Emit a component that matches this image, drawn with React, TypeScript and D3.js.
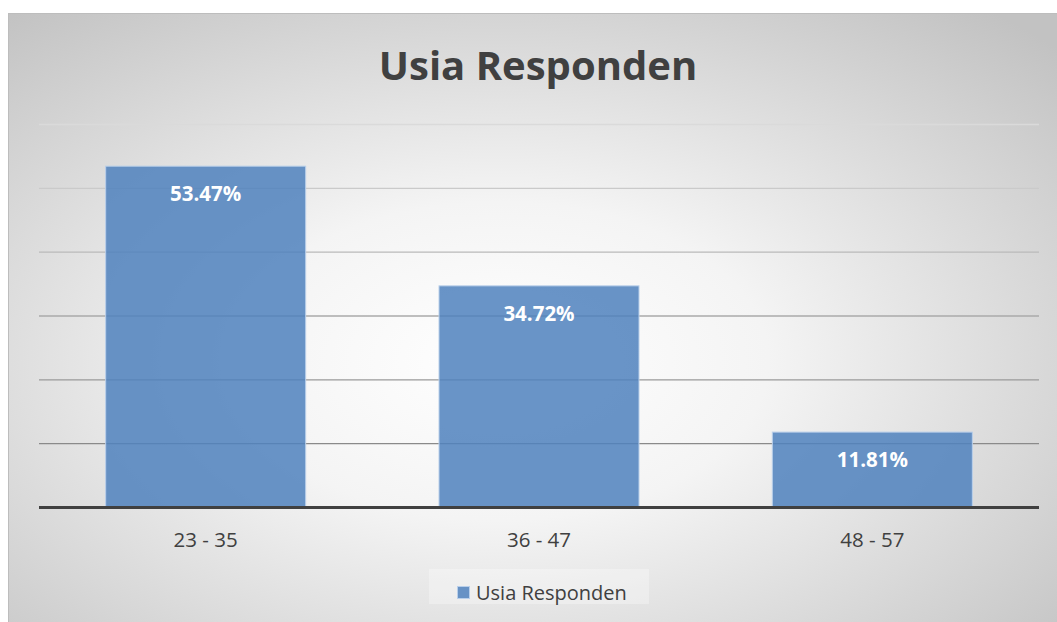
import React from 'react';
import * as d3 from 'd3';

const categories = ['23 - 35', '36 - 47', '48 - 57'];
const values = [53.47, 34.72, 11.81];
const yTicks = [0, 10, 20, 30, 40, 50, 60];
const seriesName = 'Usia Responden';
const title = 'Usia Responden';

const W = 1057;
const H = 622;
const FONT = "'Open Sans', 'Noto Sans', sans-serif";

export default function App() {
  const x = d3.scaleBand().domain(categories).range([39, 1039]).paddingInner(0.4).paddingOuter(0.2);
  const y = d3.scaleLinear().domain([0, 60]).range([507.5, 124.5]);
  const gridColor = d3.scaleLinear<string>().domain([60, 10]).range(['#dadada', '#8a8a8a']);

  return (
    <svg width={W} height={H} style={{ position: 'absolute', left: 0, top: 0 }}>
      <defs>
        <radialGradient id="bg" cx="46%" cy="55%" r="72%">
          <stop offset="0" stopColor="#ffffff" />
          <stop offset="0.35" stopColor="#f4f4f4" />
          <stop offset="1" stopColor="#c2c2c2" />
        </radialGradient>
      </defs>
      <rect x={0} y={0} width={W} height={H} fill="#ffffff" />
      <rect x={8.5} y={13.5} width={W + 10} height={H + 10} fill="url(#bg)" stroke="#bdbdbd" strokeWidth={1} />

      <text x={538} y={80} textAnchor="middle" fontFamily={FONT} fontWeight="bold" fontSize={40} fill="#404040">
        {title}
      </text>

      {yTicks.filter((t) => t > 0).map((t) => (
        <line key={t} x1={39} x2={1039} y1={y(t)} y2={y(t)} stroke={gridColor(t)} strokeWidth={1.3} />
      ))}

      {categories.map((c, i) => (
        <g key={c}>
          <rect
            x={x(c)!}
            y={y(values[i])}
            width={x.bandwidth()}
            height={y(0) - y(values[i])}
            fill="#4f81bd"
            fillOpacity={0.85}
            stroke="#b9cfea"
            strokeWidth={1}
          />
          <text
            x={x(c)! + x.bandwidth() / 2}
            y={y(values[i]) + 35}
            textAnchor="middle"
            fontFamily={FONT}
            fontWeight="bold"
            fontSize={20.5}
            fill="#ffffff"
          >
            {values[i].toFixed(2) + '%'}
          </text>
          <text
            x={x(c)! + x.bandwidth() / 2}
            y={547}
            textAnchor="middle"
            fontFamily={FONT}
            fontSize={20.5}
            fill="#404040"
          >
            {c}
          </text>
        </g>
      ))}

      <line x1={39} x2={1039} y1={y(0)} y2={y(0)} stroke="#404040" strokeWidth={3} />

      <rect x={429} y={569} width={220} height={35} fill="#ffffff" fillOpacity={0.3} />
      <rect x={457.5} y={586.5} width={12} height={12} fill="#4f81bd" fillOpacity={0.85} stroke="#b9cfea" strokeWidth={1} />
      <text x={476} y={600} fontFamily={FONT} fontSize={20} fill="#404040">
        {seriesName}
      </text>
    </svg>
  );
}
